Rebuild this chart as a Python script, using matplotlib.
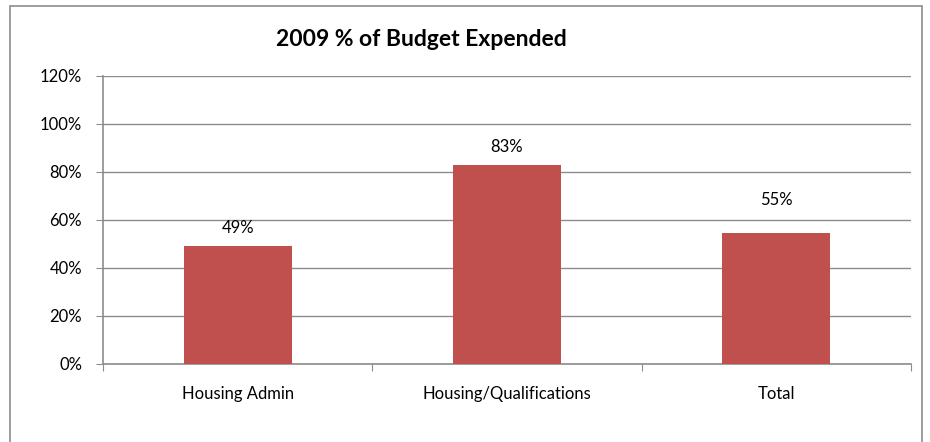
import matplotlib
matplotlib.use("Agg")
import matplotlib.pyplot as plt
from matplotlib.patches import Rectangle
from matplotlib.ticker import MultipleLocator, FuncFormatter

categories = ["Housing Admin", "Housing/Qualifications", "Total"]
values = [49.2, 82.9, 54.6]
labels = ["49%", "83%", "55%"]
label_offsets = [18, 18, 33]  # px above bar top (as in reference)
title = "2009 % of Budget Expended"

plt.rcParams['font.family'] = ['Lato', 'DejaVu Sans']

W, H = 930, 442
fig = plt.figure(figsize=(W / 100, H / 100), dpi=100)
fig.patch.set_facecolor("white")

# outer chart frame
fig.patches.append(Rectangle((10 / W, -0.05), (922 - 10) / W, 1.05 - 6 / H,
                             transform=fig.transFigure, fill=False,
                             edgecolor="#8c8c8c", linewidth=1.2))

ax = fig.add_axes([103 / W, (H - 364) / H, (911 - 103) / W, (364 - 76) / H])
x = list(range(len(categories)))
ax.bar(x, values, width=0.4, color="#C0504D", zorder=3)
ax.set_xlim(-0.5, len(categories) - 0.5)
ax.set_ylim(0, 120)
ax.yaxis.set_major_locator(MultipleLocator(20))
ax.yaxis.set_major_formatter(FuncFormatter(lambda v, p: f"{int(v)}%"))
ax.grid(axis="y", color="#8c8c8c", linewidth=1, zorder=0)
ax.set_axisbelow(True)

for s in ["top", "right"]:
    ax.spines[s].set_visible(False)
for s in ["left", "bottom"]:
    ax.spines[s].set_color("#8c8c8c")
    ax.spines[s].set_linewidth(1.2)

ax.set_xticks([i - 0.5 for i in range(len(categories) + 1)], minor=False)
ax.set_xticklabels([])
ax.set_xticks(x, minor=True)
ax.set_xticklabels(categories, minor=True, fontsize=12)
ax.tick_params(axis="x", which="major", length=5, color="#8c8c8c", direction="out")
ax.tick_params(axis="x", which="minor", length=0, pad=16)
ax.tick_params(axis="y", length=5, color="#8c8c8c", labelsize=12, pad=10)

for xi, v, lab, off in zip(x, values, labels, label_offsets):
    ax.annotate(lab, (xi, v), xytext=(0, off * 0.72), textcoords="offset points",
                ha="center", va="center", fontsize=12)

fig.text(421 / W, 1 - 40 / H, title, ha="center", va="center",
         fontsize=16.5, fontweight="bold")

fig.savefig("out.png", dpi=100)
